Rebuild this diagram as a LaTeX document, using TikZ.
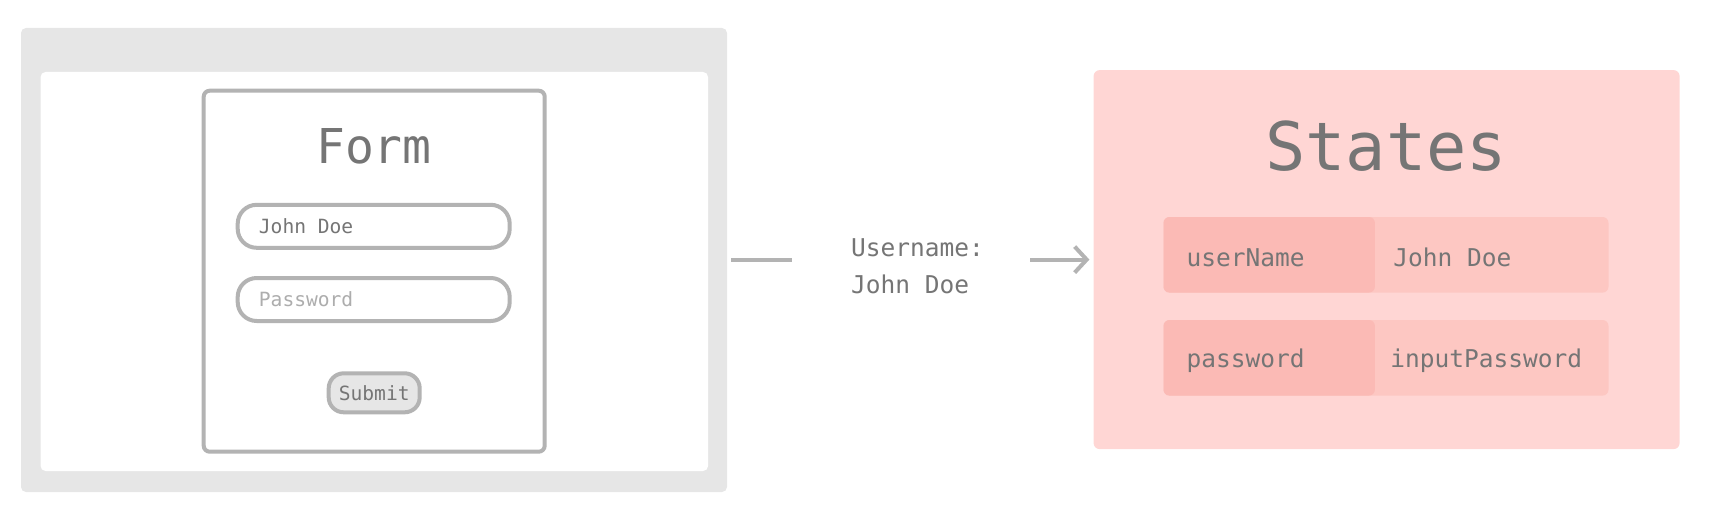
\documentclass[tikz,border=0pt]{standalone}
\usepackage{fontspec}
\newfontfamily\uimono{DejaVu Sans Mono}
\usetikzlibrary{arrows.meta}
\definecolor{uigrey}{HTML}{E6E6E6}
\definecolor{uiedge}{HTML}{B3B3B3}
\definecolor{uitext}{HTML}{757575}
\definecolor{uihint}{HTML}{ADADAD}
\definecolor{statebg}{HTML}{FFD6D4}
\definecolor{staterow}{HTML}{FDC7C2}
\definecolor{statekey}{HTML}{FBBAB5}
\tikzset{
  uipanel/.style={rounded corners=5pt, inner sep=0pt},
  uiform/.style={draw=uiedge, line width=4pt, rounded corners=6pt, fill=white,
    minimum width=341pt, minimum height=361pt, inner sep=0pt},
  uifield/.style={draw=uiedge, line width=4pt, rounded corners=19pt, fill=white,
    minimum width=272pt, minimum height=43pt, inner sep=0pt},
  fieldtext/.style={font=\uimono\fontsize{19.6}{22}\selectfont, text=uitext, inner sep=0pt},
  uibutton/.style={draw=uiedge, line width=4pt, rounded corners=15pt, fill=uigrey,
    minimum width=91pt, minimum height=39pt, inner sep=0pt,
    font=\uimono\fontsize{19.6}{22}\selectfont, text=uitext},
  uititle/.style={font=\uimono\fontsize{#1}{#1}\selectfont, text=uitext, inner sep=0pt},
  uilabel/.style={font=\uimono\fontsize{24.5}{37}\selectfont, text=uitext, inner sep=0pt, align=left},
  staterow/.style={fill=staterow, rounded corners=6pt, minimum width=445pt,
    minimum height=75.6pt, inner sep=0pt},
  statekey/.style={fill=statekey, rounded corners=6pt, minimum width=211.4pt,
    minimum height=75.6pt, inner sep=0pt},
  stateval/.style={font=\uimono\fontsize{24.5}{28}\selectfont, text=uitext, inner sep=0pt},
  uiflow/.style={draw=uiedge, line width=4pt},
}
\begin{document}
\begin{tikzpicture}[x=1pt, y=-1pt]
  \useasboundingbox (0,0) rectangle (1718,508);
  % browser window with the form
  \node[uipanel, fill=uigrey, minimum width=706pt, minimum height=464pt] (browser) at (374,260) {};
  \node[uipanel, fill=white, minimum width=667.5pt, minimum height=399pt] (page) at (374.3,271.5) {};
  \node[uiform] (form) at (374.2,271.2) {};
  \node[uititle=48] (formtitle) at (374,146) {Form};
  \node[uifield] (user) at (373.7,226.3) {};
  \node[fieldtext, anchor=west] (usertext) at ([xshift=23pt]user.west) {John Doe};
  \node[uifield] (pass) at (373.7,299.5) {};
  \node[fieldtext, anchor=west, text=uihint] (passtext) at ([xshift=23pt]pass.west) {Password};
  \node[uibutton] (submit) at (374.2,392.8) {Submit};
  % value sent to the state
  \node[uilabel, anchor=west] (msg) at (851,266) {Username:\\John Doe};
  % states
  \node[uipanel, rounded corners=6pt, fill=statebg, minimum width=586pt, minimum height=379pt] (states) at (1386.6,259.6) {};
  \node[uititle=67] (statestitle) at (1386,146) {States};
  \node[staterow] (userrow) at (1386,254.8) {};
  \node[statekey, anchor=west] (userkey) at (userrow.west) {};
  \node[stateval, anchor=west] (username) at ([xshift=23pt, yshift=-3pt]userkey.west) {userName};
  \node[stateval, anchor=west] (userval) at ([xshift=18pt, yshift=-3pt]userkey.east) {John Doe};
  \node[staterow] (passrow) at (1386,357.8) {};
  \node[statekey, anchor=west] (passkey) at (passrow.west) {};
  \node[stateval, anchor=west] (passname) at ([xshift=23pt, yshift=-3pt]passkey.west) {password};
  \node[stateval, anchor=west] (passval) at ([xshift=15pt, yshift=-3pt]passkey.east) {inputPassword};
  % connectors
  \draw[uiflow, shorten <=4pt, shorten >=59pt] (browser.east) -- (browser.east -| msg.west);
  \draw[uiflow, -{Straight Barb[length=12pt, width=26pt]}, shorten <=46pt, shorten >=4pt]
    (states.west -| msg.east) -- (states.west);
\end{tikzpicture}
\end{document}
